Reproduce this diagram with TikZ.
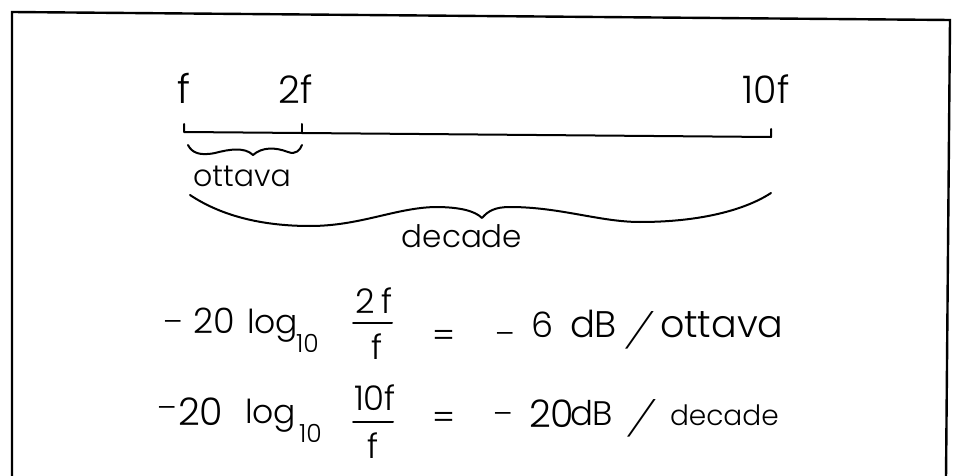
\documentclass[tikz,border=0pt]{standalone}
\usepackage{fontspec}
\setmainfont{Poppins}[UprightFont=* Light]
\tikzset{
  txt/.style={inner sep=0pt, outer sep=0pt},
  bw/.style={txt, anchor=base west},
  bc/.style={txt, anchor=base},
  ink/.style={line width=2pt, line cap=round, line join=round},
  frame/.style={line width=2.4pt, line join=miter},
  slash/.style={bw, xslant=0.45, font=\fs{34}},
  minus/.style={bw, font=\fs{30}},
}
\newcommand{\fs}[1]{\fontsize{#1}{#1}\selectfont}
\begin{document}
\begin{tikzpicture}[x=1pt,y=-1pt]
\useasboundingbox (0,0) rectangle (955,476);
% frame
\coordinate (b1) at (12,478);
\coordinate (b2) at (12,12);
\coordinate (b3) at (950,20);
\coordinate (b4) at (946,478);
\draw[frame] (b1) -- (b2) -- (b3) -- (b4);
% axis
\coordinate (a0t) at (184,124);
\coordinate (a0) at (184,132);
\coordinate (a1t) at (302,124);
\coordinate (a1) at (302,133);
\coordinate (a2t) at (771,129);
\coordinate (a2) at (771,137);
\draw[ink] (a0t) -- (a0) -- (a1) -- (a2) -- (a2t);
\draw[ink] (a1t) -- (a1);
% labels
\node[bc, font=\fs{40}] (lf) at (184,103) {f};
\node[bc, font=\fs{38}] (l2f) at (296,103) {2f};
\node[bc, font=\fs{38}] (l10f) at (766,104) {10f};
% ottava brace
\coordinate (o0) at (188,145);
\coordinate (o1) at (253,155);
\coordinate (o2) at (302,145);
\draw[ink] (o0) .. controls (192,153) and (200,156) .. (215,153)
  .. controls (230,149) and (245,147) .. (o1)
  .. controls (262,147) and (275,147) .. (288,152)
  .. controls (296,155) and (300,150) .. (o2);
\node[bc, font=\fs{30}] (lott) at (242,186) {ottava};
% decade brace
\coordinate (d0) at (190,195);
\coordinate (d1) at (482,218);
\coordinate (d2) at (771,193);
\draw[ink] (d0) .. controls (220,215) and (260,226) .. (310,226)
  .. controls (360,226) and (395,208) .. (435,207)
  .. controls (460,207) and (475,211) .. (d1)
  .. controls (488,211) and (495,207) .. (510,207)
  .. controls (560,207) and (600,222) .. (640,222)
  .. controls (700,222) and (745,210) .. (d2);
\node[bc, font=\fs{31}] (ldec) at (462,247) {decade};
% formula line 1
\node[minus] (m1) at (163,332) {–};
\node[bw, font=\fs{35}] (n1) at (193,333) {20};
\node[bw, font=\fs{33}] (log1) at (247,333) {log};
\node[bw, font=\fs{25}] (s1) at (296,352) {10};
\node[bc, font=\fs{34}] (num1) at (374,313) {2\,f};
\coordinate (fb1a) at (353,323);
\coordinate (fb1b) at (392,323);
\draw[ink] (fb1a) -- (fb1b);
\node[bc, font=\fs{34}] (den1) at (377,359) {f};
\node[bw, font=\fs{34}] (eq1) at (432,347) {=};
\node[minus] (m1r) at (495,344) {–};
\node[bw, font=\fs{35}] (six) at (531,337) {6};
\node[bw, font=\fs{37}] (db1) at (570,337) {dB};
\node[slash] (sl1) at (626,343) {/};
\node[bw, font=\fs{38}] (ott2) at (660,337) {ottava};
% formula line 2
\node[minus] (m2) at (157,418) {–};
\node[bw, font=\fs{38}] (n2) at (178,425) {20};
\node[bw, font=\fs{33}] (log2) at (245,423) {log};
\node[bw, font=\fs{25}] (s2) at (299,442) {10};
\node[bc, font=\fs{34}] (num2) at (375,410) {10f};
\coordinate (fb2a) at (353,422);
\coordinate (fb2b) at (393,422);
\draw[ink] (fb2a) -- (fb2b);
\node[bc, font=\fs{34}] (den2) at (373,458) {f};
\node[bw, font=\fs{34}] (eq2) at (432,429) {=};
\node[minus] (m2r) at (493,424) {–};
\node[bw, font=\fs{38}] (tw2) at (529,427) {20};
\node[bw, font=\fs{34}] (db2) at (570,425) {dB};
\node[slash] (sl2) at (628,431) {/};
\node[bw, font=\fs{28}] (dec2) at (670,425) {decade};
\end{tikzpicture}
\end{document}
